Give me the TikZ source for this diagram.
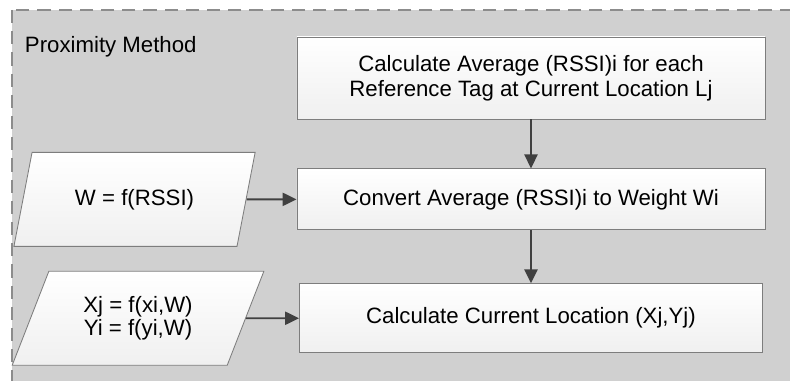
\documentclass[tikz,border=0pt]{standalone}
\usepackage{fontspec}
\setmainfont{Liberation Sans}
\usetikzlibrary{positioning, arrows.meta, shapes.geometric}

\definecolor{panelgray}{RGB}{208,208,208}
\definecolor{framegray}{RGB}{140,140,140}
\definecolor{edgegray}{RGB}{125,125,125}
\definecolor{arrowgray}{RGB}{64,64,64}

\begin{document}
\begin{tikzpicture}[
x=0.025cm, y=-0.025cm,
font=\fontsize{15.8}{17.7}\selectfont,
box/.style={rectangle, draw=edgegray, line width=0.6pt, top color=white, bottom color=black!6, align=center, minimum width=11.7cm, inner sep=0pt},
datain/.style={trapezium, trapezium left angle=63, trapezium right angle=117, trapezium stretches=true, draw=edgegray, line width=0.6pt, top color=white, bottom color=black!6, align=center, inner sep=0pt, minimum height=2.35cm},
arrow/.style={-{Triangle[length=0.35cm, width=0.33cm]}, line width=1.3pt, draw=arrowgray}
]

\clip (0,0) rectangle (790,381);
\draw[fill=panelgray, draw=framegray, line width=1.4pt, dash pattern=on 0.33cm off 0.2cm] (12,10) rectangle (830,420);

\node[anchor=base west] (titel) at (20,53) {Proximity Method};

\node[box, minimum height=2.05cm] (calc_avg) at (531,78) {Calculate Average (RSSI)i for each \\ Reference Tag at Current Location Lj};
\node[box, minimum height=1.525cm, below=1.225cm of calc_avg] (conv_wt) {Convert Average (RSSI)i to Weight Wi};
\node[box, minimum height=1.725cm, minimum width=11.575cm, below=1.325cm of conv_wt] (calc_loc) {Calculate Current Location (Xj,Yj)};

\node[datain, minimum width=6.05cm, left=1.25cm of conv_wt] (rssi_in) {W = f(RSSI)};
\node[datain, minimum width=6.3cm, left=1.325cm of calc_loc, font=\fontsize{15.8}{16.6}\selectfont] (pos_in) {Xj = f(xi,W) \\ Yi = f(yi,W)};

\draw[arrow] (calc_avg) -- (conv_wt);
\draw[arrow] (conv_wt) -- (calc_loc);
\draw[arrow] (rssi_in) -- (conv_wt);
\draw[arrow] (pos_in) -- (calc_loc);

\end{tikzpicture}
\end{document}
